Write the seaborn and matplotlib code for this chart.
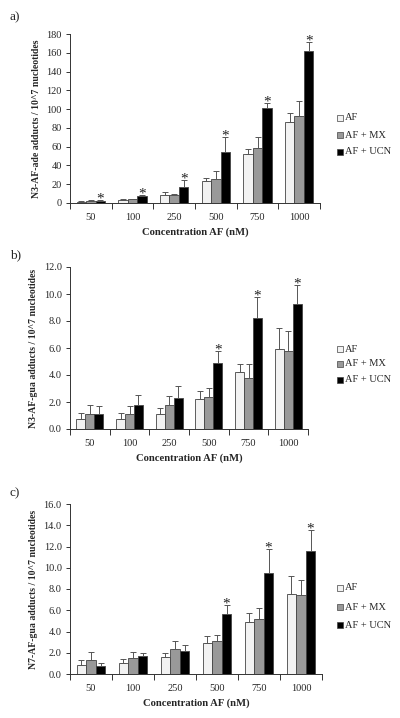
import numpy as np
import pandas as pd
import matplotlib
matplotlib.use("Agg")
import matplotlib.pyplot as plt
import seaborn as sns
from matplotlib.ticker import FixedLocator

sns.set_style("white")
plt.rcParams['font.family'] = ['Liberation Serif', 'DejaVu Serif']

concentrations = ["50", "100", "250", "500", "750", "1000"]
groups = ["AF", "AF + MX", "AF + UCN"]

# Panel a: N3-AF-ade
a_af = [1.5, 3.0, 9.0, 23.0, 52.0, 86.0]
a_mx = [2.5, 4.0, 8.5, 26.0, 59.0, 93.0]
a_ucn = [2.5, 7.0, 17.5, 54.0, 101.0, 162.0]
a_af_err = [0.5, 0.8, 3.0, 4.0, 6.0, 9.5]
a_mx_err = [0.5, 0.6, 1.0, 8.0, 11.0, 16.0]
a_ucn_err = [0.5, 1.5, 7.5, 16.0, 5.0, 9.0]
a_sig = [True, True, True, True, True, True]

# Panel b: N3-AF-gua
b_af = [0.75, 0.75, 1.1, 2.2, 4.2, 5.9]
b_mx = [1.1, 1.1, 1.8, 2.4, 3.75, 5.8]
b_ucn = [1.1, 1.75, 2.3, 4.9, 8.2, 9.25]
b_af_err = [0.45, 0.45, 0.45, 0.6, 0.65, 1.55]
b_mx_err = [0.7, 0.6, 0.65, 0.65, 1.1, 1.45]
b_ucn_err = [0.6, 0.75, 0.9, 0.9, 1.6, 1.4]
b_sig = [False, False, False, True, True, True]

# Panel c: N7-AF-gua
c_af = [0.85, 1.05, 1.6, 2.95, 4.9, 7.5]
c_mx = [1.35, 1.5, 2.35, 3.1, 5.2, 7.4]
c_ucn = [0.8, 1.7, 2.2, 5.65, 9.55, 11.6]
c_af_err = [0.45, 0.35, 0.35, 0.6, 0.85, 1.7]
c_mx_err = [0.7, 0.55, 0.75, 0.6, 1.0, 1.45]
c_ucn_err = [0.25, 0.3, 0.55, 0.85, 2.2, 2.0]
c_sig = [False, False, False, True, True, True]

colors = ["#f2f2f2", "#999999", "#000000"]
edge = "#444444"

panels = [
    dict(tag="a)", vals=[a_af, a_mx, a_ucn], errs=[a_af_err, a_mx_err, a_ucn_err], sig=a_sig,
         ylabel="N3-AF-ade adducts / 10^7 nucleotides", ymax=180, step=20, fmt="{:.0f}",
         rect=[70/400, 1-203/718, 250/400, 169/718], tagy=17, legy=[118, 135, 152]),
    dict(tag="b)", vals=[b_af, b_mx, b_ucn], errs=[b_af_err, b_mx_err, b_ucn_err], sig=b_sig,
         ylabel="N3-AF-gua adducts / 10^7 nucleotides", ymax=12, step=2, fmt="{:.1f}",
         rect=[70/400, 1-429/718, 238/400, 162/718], tagy=255, legy=[349, 364, 380]),
    dict(tag="c)", vals=[c_af, c_mx, c_ucn], errs=[c_af_err, c_mx_err, c_ucn_err], sig=c_sig,
         ylabel="N7-AF-gua adducts / 10^7 nucleotides", ymax=16, step=2, fmt="{:.1f}",
         rect=[70/400, 1-674/718, 252/400, 170/718], tagy=493, legy=[588, 607, 625]),
]

fig = plt.figure(figsize=(4.0, 7.18), dpi=100)

for p in panels:
    ax = fig.add_axes(p["rect"])
    rows = []
    for g, vals in zip(groups, p["vals"]):
        for c, v in zip(concentrations, vals):
            rows.append(dict(conc=c, group=g, value=v))
    df = pd.DataFrame(rows)
    sns.barplot(data=df, x="conc", y="value", hue="group", order=concentrations,
                hue_order=groups, palette=colors, edgecolor=edge, linewidth=0.6,
                width=0.68, errorbar=None, ax=ax, legend=False)
    bar_containers = list(ax.containers)
    for gi, cont in enumerate(bar_containers):
        xs = [b.get_x() + b.get_width()/2 for b in cont]
        hs = [b.get_height() for b in cont]
        err = p["errs"][gi]
        ax.errorbar(xs, hs, yerr=[np.zeros(len(err)), err], fmt="none",
                    ecolor="#555555", elinewidth=0.7, capsize=2.0, capthick=0.7, zorder=5)
        if gi == 2:
            for x, h, e, s in zip(xs, hs, err, p["sig"]):
                if s:
                    ax.annotate("*", (x, h + e), xytext=(0, -4), textcoords="offset points",
                                ha="center", va="bottom", fontsize=11, color="#222222",
                                annotation_clip=False)
    ax.set_ylim(0, p["ymax"])
    ax.set_xlim(-0.5, 5.5)
    yt = np.arange(0, p["ymax"] + p["step"]/2, p["step"])
    ax.set_yticks(yt)
    ax.set_yticklabels([p["fmt"].format(v) for v in yt], fontsize=7.5)
    ax.set_xticks(range(len(concentrations)))
    ax.set_xticklabels(concentrations, fontsize=7.5)
    ax.xaxis.set_minor_locator(FixedLocator(np.arange(-0.5, 6.0, 1.0)))
    ax.tick_params(axis="x", which="major", length=0, pad=7)
    ax.tick_params(axis="x", which="minor", length=4, width=0.7, color="#333333", bottom=True)
    ax.tick_params(axis="y", which="major", length=3, width=0.7, color="#333333", left=True, pad=3)
    for s in ["top", "right"]:
        ax.spines[s].set_visible(False)
    for s in ["left", "bottom"]:
        ax.spines[s].set_linewidth(0.7)
        ax.spines[s].set_color("#333333")
    ax.set_xlabel("Concentration AF (nM)", fontsize=7.7, fontweight="bold", labelpad=4)
    ax.set_ylabel(p["ylabel"], fontsize=7, fontweight="bold", labelpad=4)
    fig.text(10/400, 1 - p["tagy"]/718, p["tag"], fontsize=9.5, ha="left", va="center")
    for g, col, ly in zip(groups, colors, p["legy"]):
        fig.patches.append(plt.Rectangle((337/400, 1 - (ly + 3)/718), 6/400, 6/718,
                                         transform=fig.transFigure, facecolor=col,
                                         edgecolor=edge, linewidth=0.5))
        fig.text(345/400, 1 - ly/718, g, fontsize=7.5, ha="left", va="center")

fig.savefig("out.png", dpi=100)
